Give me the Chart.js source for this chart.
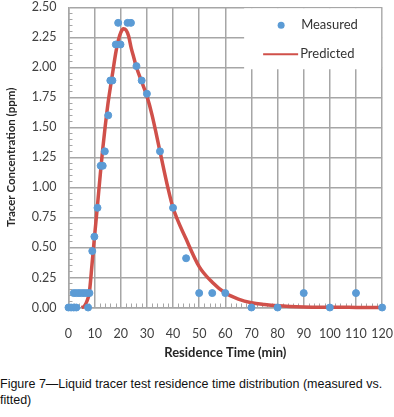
<!DOCTYPE html>
<html>
<head>
<meta charset="utf-8">
<script src="https://cdn.jsdelivr.net/npm/chart.js@4/dist/chart.umd.min.js"></script>
<style>
  html, body { margin: 0; padding: 0; background: #fff; overflow: hidden; }
  #wrap { position: relative; width: 394px; height: 362px; overflow: hidden; }
  #c { position: absolute; left: 0; top: -11px; }
  #caption { position: absolute; left: 0; top: 376px; width: 394px;
    font-family: "Liberation Sans Narrow", "Arial Narrow", "Liberation Sans", sans-serif;
    font-size: 12.5px; line-height: 16px; color: #111; }
</style>
</head>
<body>
<div id="wrap"><canvas id="c" width="413" height="371"></canvas></div>
<div id="caption">Figure 7—Liquid tracer test residence time distribution (measured vs.<br>fitted)</div>
<script>
// Measured data (time in min, concentration in ppm)
const measuredTime = [0, 1, 2, 3, 7.5, 2, 3, 4, 5, 6, 7, 8, 9.1, 9.9, 11.1, 12.3, 13.1, 13.9, 15.2, 16, 16.8, 18.1, 19.9, 19, 22.6, 23.9, 26, 28, 30, 35, 40, 45, 50, 55, 60, 70, 80, 90, 100, 110, 120];
const measuredConc = [0, 0, 0, 0, 0, 0.12, 0.12, 0.12, 0.12, 0.12, 0.12, 0.12, 0.47, 0.59, 0.83, 1.18, 1.18, 1.30, 1.60, 1.89, 1.89, 2.19, 2.19, 2.37, 2.37, 2.37, 2.01, 1.89, 1.78, 1.30, 0.83, 0.41, 0.12, 0.12, 0.12, 0, 0, 0.12, 0, 0.12, 0];

// Predicted (fitted) curve
const predictedTime = [5, 6, 7, 8, 9, 10, 11, 12, 13, 14, 15, 16, 17, 18, 19, 20, 21, 22, 23, 24, 25, 26, 28, 30, 32, 35, 38, 40, 45, 50, 55, 60, 65, 70, 75, 80, 90, 100, 110, 120];
const predictedConc = [0, 0.01, 0.05, 0.13, 0.36, 0.6, 0.83, 1.07, 1.3, 1.5, 1.68, 1.83, 1.97, 2.11, 2.22, 2.29, 2.32, 2.31, 2.26, 2.16, 2.08, 2.0, 1.88, 1.76, 1.6, 1.3, 1.0, 0.83, 0.57, 0.34, 0.21, 0.12, 0.07, 0.04, 0.025, 0.015, 0.005, 0.002, 0.001, 0];

const xTicks = [0, 10, 20, 30, 40, 50, 60, 70, 80, 90, 100, 110, 120];
const yTicks = [0, 0.25, 0.5, 0.75, 1.0, 1.25, 1.5, 1.75, 2.0, 2.25, 2.5];
const legendLabels = ['Measured', 'Predicted'];
const xTitle = 'Residence Time (min)';
const yTitle = 'Tracer Concentration (ppm)';

const blue = '#5b9bd5';
const red = '#d0504a';
const gridColor = '#a6a6a6';
const tickFont = { family: 'Lato, "Open Sans", sans-serif', size: 12.5, lineHeight: 1 };

const minorTicks = {
  id: 'minorTicks',
  beforeDatasetsDraw(chart) {
    const { ctx, chartArea: a, scales: { x, y } } = chart;
    ctx.save();
    ctx.strokeStyle = gridColor;
    ctx.lineWidth = 1;
    ctx.beginPath();
    for (let v = 0; v <= 120; v += 2) {
      if (v % 10 === 0) continue;
      const px = Math.round(x.getPixelForValue(v)) + 0.5;
      ctx.moveTo(px, a.bottom);
      ctx.lineTo(px, a.bottom - 4);
    }
    for (let k = 0; k <= 50; k++) {
      if (k % 5 === 0) continue;
      const py = Math.round(y.getPixelForValue(k * 0.05)) + 0.5;
      ctx.moveTo(a.left, py);
      ctx.lineTo(a.left + 4, py);
    }
    ctx.stroke();
    ctx.restore();
  }
};

const boxLegend = {
  id: 'boxLegend',
  afterDatasetsDraw(chart) {
    const { ctx, chartArea: a } = chart;
    ctx.save();
    ctx.fillStyle = '#fff';
    ctx.fillRect(a.right - 138, a.top + 1, 137, 61);
    ctx.font = '13px Lato, "Open Sans", sans-serif';
    ctx.textBaseline = 'middle';
    ctx.beginPath();
    ctx.fillStyle = blue;
    ctx.arc(a.right - 101, a.top + 18, 3.5, 0, Math.PI * 2);
    ctx.fill();
    ctx.fillStyle = '#333';
    ctx.fillText(legendLabels[0], a.right - 81, a.top + 18);
    ctx.strokeStyle = red;
    ctx.lineWidth = 2;
    ctx.beginPath();
    ctx.moveTo(a.right - 119, a.top + 47);
    ctx.lineTo(a.right - 84, a.top + 47);
    ctx.stroke();
    ctx.fillText(legendLabels[1], a.right - 82, a.top + 47);
    ctx.restore();
  }
};

// x-axis title placed just below the tick labels
const xAxisTitle = {
  id: 'xAxisTitle',
  afterDraw(chart) {
    const { ctx, chartArea: a } = chart;
    ctx.save();
    ctx.font = 'bold 13px Lato, "Open Sans", sans-serif';
    ctx.fillStyle = '#262626';
    ctx.textAlign = 'center';
    ctx.textBaseline = 'middle';
    ctx.fillText(xTitle, (a.left + a.right) / 2, a.bottom + 45);
    ctx.restore();
  }
};

new Chart(document.getElementById('c'), {
  type: 'scatter',
  data: {
    datasets: [
      {
        label: legendLabels[0],
        data: measuredTime.map((t, i) => ({ x: t, y: measuredConc[i] })),
        backgroundColor: blue,
        borderColor: blue,
        pointRadius: 3.5,
        pointHoverRadius: 3.5,
        order: 1,
        clip: false
      },
      {
        label: legendLabels[1],
        type: 'line',
        data: predictedTime.map((t, i) => ({ x: t, y: predictedConc[i] })),
        borderColor: red,
        borderWidth: 3.5,
        pointRadius: 0,
        fill: false,
        cubicInterpolationMode: 'monotone',
        order: 2,
        clip: false
      }
    ]
  },
  options: {
    responsive: false,
    animation: false,
    layout: { padding: { left: 3, right: 0, top: 0, bottom: 0 } },
    plugins: { legend: { display: false }, tooltip: { enabled: false } },
    scales: {
      x: {
        type: 'linear', min: 0, max: 120,
        afterBuildTicks: s => { s.ticks = xTicks.map(v => ({ value: v })); },
        grid: { color: gridColor, lineWidth: 1.5, drawTicks: false },
        border: { color: gridColor, width: 1.5 },
        ticks: { font: tickFont, color: '#404040', padding: 20, maxRotation: 0, minRotation: 0, autoSkip: false },
        title: { display: false, text: xTitle }
      },
      y: {
        type: 'linear', min: 0, max: 2.5,
        afterBuildTicks: s => { s.ticks = yTicks.map(v => ({ value: v })); },
        grid: { color: gridColor, lineWidth: 1.5, drawTicks: false },
        border: { color: gridColor, width: 1.5 },
        ticks: { font: tickFont, color: '#404040', padding: 12, callback: v => v.toFixed(2) },
        title: { display: true, text: yTitle, color: '#262626',
          font: { family: 'Lato, "Open Sans", sans-serif', size: 11.5, weight: 'bold' }, padding: { top: 1, bottom: 2 } }
      }
    }
  },
  plugins: [minorTicks, boxLegend, xAxisTitle]
});
</script>
</body>
</html>
